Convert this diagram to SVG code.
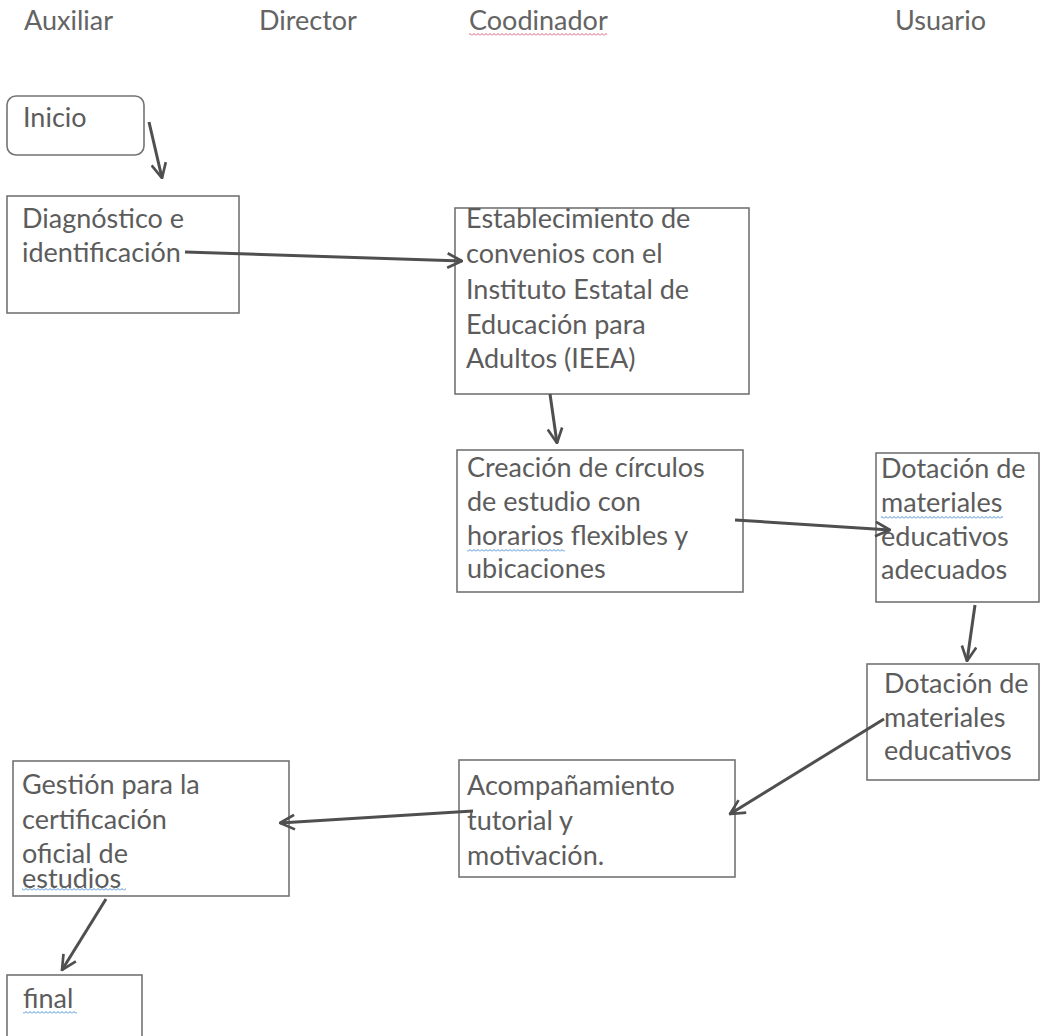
<svg xmlns="http://www.w3.org/2000/svg" width="1041" height="1036" viewBox="0 0 1041 1036">
<style>
  .bg { fill: #ffffff; }
  .box { fill: #ffffff; stroke: #737373; stroke-width: 1.6; }
  .t { font-family: Lato, "Open Sans", "Liberation Sans", sans-serif; font-size: 27px; fill: #5c5c5c; }
  .hdr { font-family: Lato, "Open Sans", "Liberation Sans", sans-serif; font-size: 27px; fill: #646464; }
  .conn { stroke: #4f4f4f; stroke-width: 3; fill: none; marker-end: url(#arrow); }
</style>
<defs>
  <marker id="arrow" viewBox="0 0 14 14" refX="13" refY="7" markerWidth="17" markerHeight="17" markerUnits="userSpaceOnUse" orient="auto">
    <path d="M1,1 L13,7 L1,13" fill="none" stroke="#4f4f4f" stroke-width="2.2"/>
  </marker>
  <pattern id="wavyBlue" x="0" y="0" width="4" height="3" patternUnits="userSpaceOnUse">
    <path d="M0,2.5 L2,0.5 L4,2.5" fill="none" stroke="#4a8fd8" stroke-width="1"/>
  </pattern>
  <pattern id="wavyRed" x="0" y="0" width="4" height="3" patternUnits="userSpaceOnUse">
    <path d="M0,2.5 L2,0.5 L4,2.5" fill="none" stroke="#e0607a" stroke-width="1"/>
  </pattern>
</defs>
<rect class="bg" x="0" y="0" width="1041" height="1036"/>

<g id="headers">
  <text class="hdr" x="24" y="30">Auxiliar</text>
  <text class="hdr" x="259" y="30">Director</text>
  <text class="hdr" x="469" y="30">Coodinador</text>
  <rect x="469" y="33" width="138" height="3" fill="url(#wavyRed)"/>
  <text class="hdr" x="895" y="30">Usuario</text>
</g>

<g id="node-inicio">
  <rect class="box" x="7" y="96" width="137" height="59" rx="9"/>
  <text class="t" x="23" y="127">Inicio</text>
</g>

<g id="node-diagnostico">
  <rect class="box" x="7" y="196" width="232" height="117"/>
  <text class="t" x="22" y="228">Diagnóstico e</text>
  <text class="t" x="22" y="262">identificación</text>
</g>

<g id="node-convenios">
  <rect class="box" x="455" y="208" width="294" height="186"/>
  <text class="t" x="466" y="228">Establecimiento de</text>
  <text class="t" x="466" y="263">convenios con el</text>
  <text class="t" x="466" y="299">Instituto Estatal de</text>
  <text class="t" x="466" y="334">Educación para</text>
  <text class="t" x="466" y="368">Adultos (IEEA)</text>
</g>

<g id="node-circulos">
  <rect class="box" x="457" y="450" width="286" height="142"/>
  <text class="t" x="467" y="477">Creación de círculos</text>
  <text class="t" x="467" y="511">de estudio con</text>
  <text class="t" x="467" y="545">horarios flexibles y</text>
  <rect x="467" y="549" width="98" height="3" fill="url(#wavyBlue)"/>
  <text class="t" x="467" y="578">ubicaciones</text>
</g>

<g id="node-materiales-adecuados">
  <rect class="box" x="876" y="453" width="163" height="149"/>
  <text class="t" x="881" y="478">Dotación de</text>
  <text class="t" x="881" y="512">materiales</text>
  <rect x="881" y="516" width="122" height="3" fill="url(#wavyBlue)"/>
  <text class="t" x="881" y="546">educativos</text>
  <text class="t" x="881" y="579">adecuados</text>
</g>

<g id="node-materiales">
  <rect class="box" x="867" y="664" width="172" height="116"/>
  <text class="t" x="884" y="693">Dotación de</text>
  <text class="t" x="884" y="727">materiales</text>
  <text class="t" x="884" y="760">educativos</text>
</g>

<g id="node-acompanamiento">
  <rect class="box" x="459" y="760" width="276" height="117"/>
  <text class="t" x="467" y="795">Acompañamiento</text>
  <text class="t" x="467" y="830">tutorial y</text>
  <text class="t" x="467" y="865">motivación.</text>
</g>

<g id="node-certificacion">
  <rect class="box" x="13" y="761" width="276" height="135"/>
  <text class="t" x="22" y="794">Gestión para la</text>
  <text class="t" x="22" y="829">certificación</text>
  <text class="t" x="22" y="863">oficial de</text>
  <text class="t" x="22" y="888">estudios</text>
  <rect x="22" y="888" width="104" height="3" fill="url(#wavyBlue)"/>
</g>

<g id="node-final">
  <rect class="box" x="7" y="975" width="135" height="70"/>
  <text class="t" x="23" y="1008">final</text>
  <rect x="23" y="1011" width="54" height="3" fill="url(#wavyBlue)"/>
</g>

<g id="connectors">
  <line class="conn" x1="149" y1="122" x2="162" y2="178"/>
  <line class="conn" x1="185" y1="252" x2="462" y2="261"/>
  <line class="conn" x1="550" y1="394" x2="557" y2="443"/>
  <line class="conn" x1="735" y1="520" x2="890" y2="530"/>
  <line class="conn" x1="975" y1="605" x2="967" y2="661"/>
  <line class="conn" x1="884" y1="719" x2="730" y2="814"/>
  <line class="conn" x1="473" y1="811" x2="280" y2="823"/>
  <line class="conn" x1="106" y1="899" x2="62" y2="970"/>
</g>
</svg>
